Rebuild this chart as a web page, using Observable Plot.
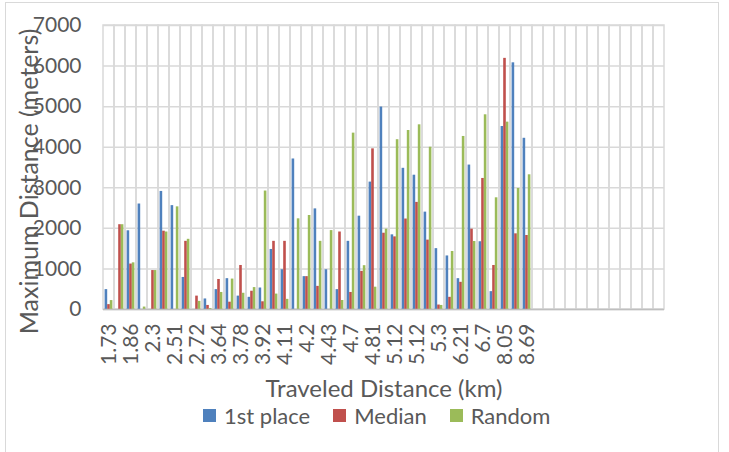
<!DOCTYPE html>
<html>
<head>
<meta charset="utf-8">
<script src="https://cdn.jsdelivr.net/npm/d3@7"></script>
<script src="https://cdn.jsdelivr.net/npm/@observablehq/plot@0.6"></script>
<style>
  body { margin: 0; background: #fff; font-family: Lato, "Open Sans", sans-serif; }
  #wrap { position: relative; width: 729px; height: 452px; overflow: hidden; background: #fff; }
  #border { position: absolute; left: 5px; top: 2px; width: 714px; height: 480px; border: 1px solid #d9d9d9; box-sizing: border-box; }
  #chart { position: absolute; left: 0; top: 0; }
  #legend { position: absolute; left: 203px; top: 402px; display: flex; align-items: center; gap: 23px; font-size: 22px; color: #595959; }
  .item { display: flex; align-items: center; }
  .sw { width: 13px; height: 13px; margin-right: 8px; }
</style>
</head>
<body>
<div id="wrap">
  <div id="border"></div>
  <div id="chart"></div>
  <div id="legend"></div>
</div>
<script>
// Category slots (Excel category axis has 51 slots; only every other one is labelled)
const slotCount = 51;
const labelSlots = [1, 3, 5, 7, 9, 11, 13, 15, 17, 19, 21, 23, 25, 27, 29, 31, 33, 35, 37, 39];
const labels = ["1.73", "1.86", "2.3", "2.51", "2.72", "3.64", "3.78", "3.92", "4.11", "4.2",
                "4.43", "4.7", "4.81", "5.12", "5.12", "5.3", "6.21", "6.7", "8.05", "8.69"];

const seriesNames = ["1st place", "Median", "Random"];
const seriesColors = ["#4f81bd", "#c0504d", "#9bbb59"];

const firstPlace = [490, 0, 1940, 2600, 0, 2910, 2560, 790, 0, 260, 490, 760, 330, 300, 530, 1480, 980, 3710, 810, 2480,
                    980, 490, 1680, 2300, 3140, 4990, 1840, 3480, 3310, 2400, 1500, 1320, 760, 3560, 1670, 440, 4510, 6080, 4220];
const median = [120, 2090, 1120, 0, 960, 1930, 0, 1680, 330, 100, 740, 180, 1085, 450, 190, 1680, 1680, 0, 810, 570,
                0, 1910, 420, 940, 3960, 1880, 1790, 2230, 2640, 1710, 110, 300, 670, 1980, 3230, 1085, 6190, 1865, 1824];
const random = [220, 2090, 1150, 60, 960, 1910, 2530, 1730, 200, 25, 420, 750, 400, 540, 2920, 380, 250, 2235, 2317, 1680,
                1945, 222, 4347, 1080, 550, 1980, 4185, 4412, 4552, 4000, 100, 1430, 4265, 1676, 4799, 2753, 4618, 2983, 3320];

const yTicks = [0, 1000, 2000, 3000, 4000, 5000, 6000, 7000];
const yTitle = "Maximum Distance (meters)";
const xTitle = "Traveled Distance (km)";

const slots = d3.range(1, slotCount + 1);
const labelOf = new Map(labelSlots.map((s, i) => [s, labels[i]]));
const rows = firstPlace.map((v, i) => ({slot: i + 1, first: v, median: median[i], random: random[i]}));

const grid = "#d9d9d9";
const barInset = 4.2;
const barStep = 2.6;

const chart = Plot.plot({
  width: 729,
  height: 402,
  marginLeft: 103,
  marginRight: 65,
  marginTop: 25,
  marginBottom: 93,
  style: {fontFamily: "Lato, 'Open Sans', sans-serif", fontSize: "21px", color: "#595959", background: "transparent", overflow: "visible"},
  x: {type: "band", domain: slots, padding: 0, ticks: labelSlots, tickFormat: s => labelOf.get(s) ?? "",
      tickRotate: -90, tickSize: 0, tickPadding: 14, label: null},
  y: {domain: [0, 7000], ticks: yTicks, tickFormat: d => String(d), tickSize: 0, tickPadding: 22, label: null},
  marks: [
    Plot.ruleY(yTicks, {stroke: grid, strokeWidth: 1.5}),
    Plot.barY(slots, {x: d => d, y1: 0, y2: 7000, fill: "none", stroke: grid, strokeWidth: 1.5}),
    Plot.barY(rows, {x: "slot", y: "first", fill: seriesColors[0], insetLeft: barInset, insetRight: barInset, dx: -barStep}),
    Plot.barY(rows, {x: "slot", y: "median", fill: seriesColors[1], insetLeft: barInset, insetRight: barInset}),
    Plot.barY(rows, {x: "slot", y: "random", fill: seriesColors[2], insetLeft: barInset, insetRight: barInset, dx: barStep}),
    Plot.ruleY([0], {stroke: "#bfbfbf", strokeWidth: 1.5}),
    Plot.text([yTitle], {text: d => d, frameAnchor: "left", textAnchor: "middle", rotate: -90, dx: -74, dy: 14, fontSize: 25, fill: "#595959"}),
    Plot.text([xTitle], {text: d => d, frameAnchor: "bottom", dy: 87, fontSize: 24, fill: "#595959"})
  ]
});
document.getElementById("chart").appendChild(chart);

const legend = document.getElementById("legend");
seriesNames.forEach((name, i) => {
  const item = document.createElement("div");
  item.className = "item";
  const sw = document.createElement("span");
  sw.className = "sw";
  sw.style.background = seriesColors[i];
  const label = document.createElement("span");
  label.textContent = name;
  item.appendChild(sw);
  item.appendChild(label);
  legend.appendChild(item);
});
</script>
</body>
</html>
